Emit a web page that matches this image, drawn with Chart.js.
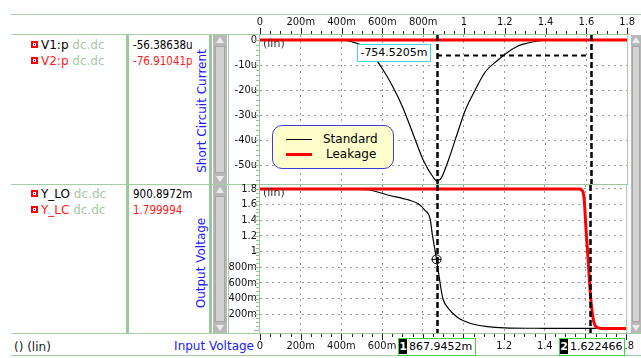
<!DOCTYPE html>
<html>
<head>
<meta charset="utf-8">
<script src="https://cdn.jsdelivr.net/npm/chart.js@4.4.1/dist/chart.umd.min.js"></script>
<style>
body { margin: 0; background: #fff; }
#wrap { position: relative; width: 641px; height: 358px; overflow: hidden; background: #fff; font-family: "DejaVu Sans", sans-serif; }
#wrap canvas { position: absolute; left: 0; top: 0; }
.g { position: absolute; background: #a3cda3; }
.bar { position: absolute; background: #9cc69c; }
.t { position: absolute; white-space: nowrap; font-size: 12px; line-height: 14px; }
.val { font-family: "DejaVu Sans Condensed", "DejaVu Sans", sans-serif; font-size: 11.5px; }
.dim { color: #a8c8a8; }
.red { color: #ff1a1a; }
.blue { color: #1a1aff; }
.ico { position: absolute; width: 7px; height: 7px; background: #f00; }
.ico::after { content: ""; position: absolute; left: 2px; top: 2px; width: 3px; height: 3px; background: #fff; }
.ico i { position: absolute; left: 3px; top: 3px; width: 1px; height: 1px; background: #00f; z-index: 2; }
.rot { position: absolute; white-space: nowrap; font-size: 12px; transform: translate(-50%, -50%) rotate(-90deg); }
.sb { position: absolute; background: #b8b8b8; }
.sb .th { position: absolute; left: 2px; right: 2px; top: 11px; bottom: 11px; background: #d2d2d2; border: 1px solid #a4a4a4; }
.sb .up, .sb .dn { position: absolute; left: 50%; margin-left: -4px; width: 0; height: 0; border-left: 4px solid transparent; border-right: 4px solid transparent; }
.sb .up { top: 2px; border-bottom: 6px solid #ececec; }
.sb .dn { bottom: 2px; border-top: 6px solid #ececec; }
.ov { position: absolute; z-index: 5; }
#legend { left: 272px; top: 125px; width: 122px; height: 44px; box-sizing: border-box; background: #ffffcc; border: 1.5px solid #3c3cd8; border-radius: 10px; }
.lg-line { position: absolute; left: 13px; width: 26px; }
.lg-txt { position: absolute; font-size: 12px; line-height: 14px; white-space: nowrap; }
#delta { left: 357px; top: 44px; width: 74px; height: 18px; box-sizing: border-box; background: #fff; border: 1.5px solid #3fdcdc; font-size: 11px; line-height: 15px; text-align: center; }
.cur { position: absolute; z-index: 5; top: 338px; height: 18px; box-sizing: border-box; background: #fff; border: 1.5px solid #3fd43f; font-size: 11px; line-height: 15px; white-space: nowrap; }
.cur b { display: inline-block; background: #000; color: #fff; font-weight: bold; width: 8px; text-align: center; margin-right: 2px; }
</style>
</head>
<body>
<div id="wrap">
  <div class="g" style="left:11px;top:14px;width:630px;height:1px"></div>
  <div class="g" style="left:11px;top:34px;width:619px;height:1px"></div>
  <div class="g" style="left:11px;top:184px;width:248px;height:1px"></div>
  <div class="g" style="left:11px;top:333px;width:630px;height:1px"></div>
  <div class="g" style="left:11px;top:355px;width:630px;height:1px"></div>
  <div class="bar" style="left:126px;top:35px;width:3px;height:298px"></div>
  <div class="bar" style="left:209px;top:35px;width:3px;height:298px"></div>
  <div class="g" style="left:228px;top:35px;width:1px;height:298px"></div>
  <div class="sb" style="left:213px;top:35px;width:14px;height:149px"><div class="th"></div><div class="up"></div><div class="dn"></div></div>
  <div class="sb" style="left:213px;top:185px;width:14px;height:148px"><div class="th"></div><div class="up"></div><div class="dn"></div></div>
  <div class="sb" style="left:631px;top:35px;width:10px;height:298px"><div class="th" style="left:1px;right:1px"></div><div class="up"></div><div class="dn"></div></div>

  <div class="ico" style="left:31px;top:41px"><i></i></div>
  <div class="t" style="left:41px;top:38px">V1:p <span class="dim">dc.dc</span></div>
  <div class="ico" style="left:31px;top:57px"><i></i></div>
  <div class="t red" style="left:41px;top:54px">V2:p <span class="dim">dc.dc</span></div>
  <div class="t val" style="left:133px;top:38px">-56.38638u</div>
  <div class="t val red" style="left:133px;top:54px">-76.91041p</div>
  <div class="rot blue" style="left:202px;top:111px">Short Circuit Current</div>

  <div class="ico" style="left:31px;top:190px"><i></i></div>
  <div class="t" style="left:41px;top:187px">Y_LO <span class="dim">dc.dc</span></div>
  <div class="ico" style="left:31px;top:206px"><i></i></div>
  <div class="t red" style="left:41px;top:203px">Y_LC <span class="dim">dc.dc</span></div>
  <div class="t val" style="left:133px;top:187px">900.8972m</div>
  <div class="t val red" style="left:133px;top:203px">1.799994</div>
  <div class="rot blue" style="left:201px;top:263px">Output Voltage</div>

  <div class="t" style="left:14px;top:340px;color:#222">() (lin)</div>
  <div class="t blue" style="right:387px;top:339px">Input Voltage</div>

  <canvas id="currentChart" width="641" height="358"></canvas>
  <canvas id="voltageChart" width="641" height="358"></canvas>

  <div id="legend" class="ov">
    <div class="lg-line" style="top:13px;border-top:1px solid #000"></div>
    <div class="lg-txt" style="left:50px;top:6px">Standard</div>
    <div class="lg-line" style="top:27px;border-top:3px solid #f00"></div>
    <div class="lg-txt" style="left:53px;top:21px">Leakage</div>
  </div>
  <div id="delta" class="ov">-754.5205m</div>
  <div class="cur" style="left:398px;width:78px"><b>1</b>867.9452m</div>
  <div class="cur" style="left:559px;width:66px"><b>2</b>1.622466</div>
</div>

<script>
// input voltage axis
const xTicks = [0, 0.2, 0.4, 0.6, 0.8, 1, 1.2, 1.4, 1.6, 1.8];
const xTickLabels = ['0', '200m', '400m', '600m', '800m', '1', '1.2', '1.4', '1.6', '1.8'];

// short circuit current, in uA
const currentTicks = [0, -10, -20, -30, -40, -50];
const currentTickLabels = ['0', '-10u', '-20u', '-30u', '-40u', '-50u'];
const stdCurrentX = [0, 0.2, 0.4, 0.45, 0.5, 0.55, 0.6, 0.65, 0.7, 0.75, 0.8, 0.85, 0.868, 0.89, 0.924, 0.973, 1.007, 1.055, 1.104, 1.167, 1.216, 1.265, 1.313, 1.362, 1.4, 1.6, 1.8];
const stdCurrent = [0, 0, 0, -0.7, -2.2, -5.8, -11.5, -18.5, -27, -37.5, -48, -55, -56.4, -55, -48, -36, -28, -20, -12.8, -8, -4.8, -2.4, -1.2, -0.4, 0, 0, 0];
const leakCurrentX = [0, 1.8];
const leakCurrent = [-0.0000769, -0.0000769];

// output voltage
const voltTicks = [1.8, 1.6, 1.4, 1.2, 1, 0.8, 0.6, 0.4, 0.2];
const voltTickLabels = ['1.8', '1.6', '1.4', '1.2', '1', '800m', '600m', '400m', '200m'];
const stdVoltX = [0, 0.3, 0.527, 0.632, 0.73, 0.778, 0.81, 0.837, 0.846, 0.868, 0.88, 0.89, 0.9, 0.924, 0.97, 1.036, 1.12, 1.2, 1.4, 1.8];
const stdVolt = [1.8, 1.8, 1.79, 1.72, 1.66, 1.61, 1.53, 1.41, 1.24, 0.9, 0.69, 0.52, 0.39, 0.28, 0.16, 0.08, 0.04, 0.025, 0.019, 0.017];
const leakVoltX = [0, 1.572, 1.589, 1.594, 1.602, 1.613, 1.625, 1.638, 1.65, 1.678, 1.8];
const leakVolt = [1.8, 1.8, 1.75, 1.66, 1.32, 0.9, 0.43, 0.14, 0.045, 0.018, 0.017];

// cursors
const cursorX = [0.8679452, 1.622466];
const cursorVolt = 0.9008972;
const deltaLevel = -6;

const tickFont = { family: 'DejaVu Sans Condensed', size: 11 };
const clear = 'rgba(0,0,0,0)';

function pts(xs, ys) {
    return xs.map((v, i) => ({ x: v, y: ys[i] }));
}

const marks = {
    id: 'marks',
    afterDatasetsDraw(chart, args, o) {
        const { ctx, chartArea: a, scales: { x, y } } = chart;
        ctx.save();
        ctx.strokeStyle = '#000';
        ctx.lineWidth = 2.5;
        ctx.setLineDash([6, 3]);
        cursorX.forEach(c => {
            const px = Math.round(x.getPixelForValue(c)) + 0.5;
            ctx.beginPath();
            ctx.moveTo(px, a.top);
            ctx.lineTo(px, a.bottom + 1);
            ctx.stroke();
        });
        if (o.delta) {
            const py = Math.round(y.getPixelForValue(deltaLevel)) + 0.5;
            ctx.lineWidth = 2;
            ctx.setLineDash([5, 4]);
            ctx.beginPath();
            ctx.moveTo(x.getPixelForValue(cursorX[0]), py);
            ctx.lineTo(x.getPixelForValue(cursorX[1]), py);
            ctx.stroke();
        }
        if (o.marker) {
            const px = x.getPixelForValue(cursorX[0]);
            const py = y.getPixelForValue(cursorVolt);
            ctx.setLineDash([]);
            ctx.lineWidth = 1;
            ctx.beginPath();
            ctx.arc(px, py, 4.5, 0, Math.PI * 2);
            ctx.moveTo(px - 5, py);
            ctx.lineTo(px + 5, py);
            ctx.stroke();
        }
        ctx.setLineDash([]);
        ctx.fillStyle = '#333';
        ctx.font = '11px "DejaVu Sans"';
        ctx.textBaseline = 'middle';
        ctx.fillText('(lin)', a.left + 3, a.top + o.linY);
        ctx.restore();
    },
    afterDraw(chart, args, o) {
        const { ctx, chartArea: a, scales: { x, y } } = chart;
        ctx.save();
        ctx.lineWidth = 1;
        ctx.strokeStyle = '#9cc99c';
        ctx.strokeRect(a.left - 0.5, a.top - 0.5, a.width + 1, a.height + 1);
        ctx.strokeStyle = '#222';
        ctx.beginPath();
        for (let i = 0; i <= 36; i++) {
            const px = Math.round(x.getPixelForValue(i * 0.05)) + 0.5;
            const len = i % 4 === 0 ? 6 : 3;
            if (o.top) {
                ctx.moveTo(px, a.top - 1);
                ctx.lineTo(px, a.top - 1 - len);
            } else {
                ctx.moveTo(px, a.bottom + 1);
                ctx.lineTo(px, a.bottom + 1 + len);
            }
        }
        ctx.stroke();
        ctx.strokeStyle = '#8cc48c';
        ctx.beginPath();
        for (let i = 0; i < o.yCount; i++) {
            const py = Math.round(y.getPixelForValue(i * o.yStep)) + 0.5;
            const len = i % o.yMajor === 0 ? 5 : 3;
            ctx.moveTo(a.left - 1, py);
            ctx.lineTo(a.left - 1 - len, py);
        }
        ctx.stroke();
        ctx.restore();
    }
};

function xAxis(position, pad, height) {
    return {
        type: 'linear',
        position: position,
        min: 0,
        max: 1.8,
        afterBuildTicks: s => { s.ticks = xTicks.map(v => ({ value: v })); },
        afterFit: s => { s.height = height; },
        ticks: {
            callback: (v, i) => xTickLabels[i],
            font: tickFont, color: '#111', padding: pad,
            maxRotation: 0, autoSkip: false
        },
        grid: {
            drawTicks: false,
            color: c => (c.tick && (c.tick.value === 0 || c.tick.value === 1.8)) ? clear : '#9a9a9a'
        },
        border: { display: false, dash: [2, 4] }
    };
}

function yAxis(min, max, ticks, labels) {
    return {
        min: min,
        max: max,
        afterBuildTicks: s => { s.ticks = ticks.map(v => ({ value: v })); },
        afterFit: s => { s.width = 32; },
        ticks: {
            callback: (v, i) => labels[i],
            font: tickFont, color: '#111', padding: 3, autoSkip: false
        },
        grid: {
            drawTicks: false,
            color: c => (c.tick && c.tick.value === 0) ? clear : '#9a9a9a'
        },
        border: { display: false, dash: [2, 4] }
    };
}

new Chart(document.getElementById('currentChart'), {
    type: 'line',
    data: {
        datasets: [{
            label: 'Leakage',
            data: pts(leakCurrentX, leakCurrent),
            borderColor: '#ff0000',
            borderWidth: 3,
            pointRadius: 0,
            order: 0
        }, {
            label: 'Standard',
            data: pts(stdCurrentX, stdCurrent),
            borderColor: '#000000',
            borderWidth: 1.2,
            pointRadius: 0,
            cubicInterpolationMode: 'monotone',
            order: 1
        }]
    },
    options: {
        responsive: false,
        animation: false,
        layout: { padding: { left: 228, top: 14, right: 11, bottom: 174 } },
        plugins: {
            legend: { display: false },
            tooltip: { enabled: false },
            marks: { top: true, delta: true, linY: 9, yStep: -2, yCount: 29, yMajor: 5 }
        },
        scales: {
            x: xAxis('top', 6, 21),
            y: yAxis(-57.6, 2, currentTicks, currentTickLabels)
        }
    },
    plugins: [marks]
});

new Chart(document.getElementById('voltageChart'), {
    type: 'line',
    data: {
        datasets: [{
            label: 'Leakage',
            data: pts(leakVoltX, leakVolt),
            borderColor: '#ff0000',
            borderWidth: 3,
            pointRadius: 0,
            cubicInterpolationMode: 'monotone',
            order: 0
        }, {
            label: 'Standard',
            data: pts(stdVoltX, stdVolt),
            borderColor: '#000000',
            borderWidth: 1.2,
            pointRadius: 0,
            cubicInterpolationMode: 'monotone',
            order: 1
        }]
    },
    options: {
        responsive: false,
        animation: false,
        layout: { padding: { left: 228, top: 185, right: 11, bottom: 0 } },
        plugins: {
            legend: { display: false },
            tooltip: { enabled: false },
            marks: { top: false, marker: true, linY: 8, yStep: 0.05, yCount: 37, yMajor: 4 }
        },
        scales: {
            x: xAxis('bottom', 7, 25),
            y: yAxis(-0.041, 1.851, voltTicks, voltTickLabels)
        }
    },
    plugins: [marks]
});
</script>
</body>
</html>
